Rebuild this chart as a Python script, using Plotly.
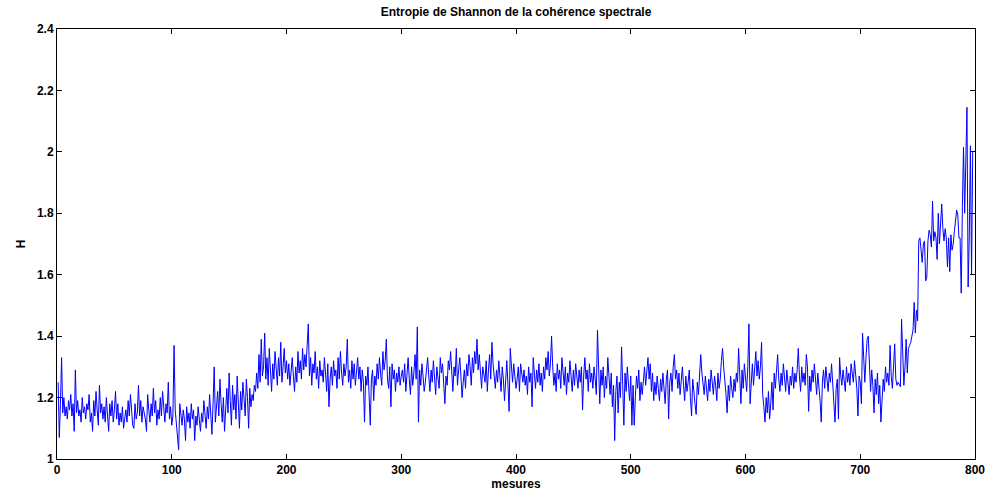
import plotly.graph_objects as go

# Shannon entropy values H (measures 1..798)
h_000_099 = [
    1.25, 1.07, 1.18, 1.33, 1.15, 1.20, 1.14, 1.17, 1.13, 1.19,
    1.16, 1.21, 1.14, 1.18, 1.09, 1.29, 1.15, 1.19, 1.14, 1.16,
    1.12, 1.20, 1.15, 1.17, 1.13, 1.18, 1.16, 1.21, 1.12, 1.15,
    1.09, 1.19, 1.14, 1.22, 1.16, 1.11, 1.24, 1.15, 1.18, 1.13,
    1.17, 1.12, 1.20, 1.15, 1.09, 1.18, 1.14, 1.19, 1.12, 1.16,
    1.22, 1.13, 1.18, 1.11, 1.15, 1.12, 1.17, 1.10, 1.14, 1.16,
    1.12, 1.19, 1.14, 1.21, 1.16, 1.11, 1.10, 1.18, 1.13, 1.15,
    1.24, 1.14, 1.19, 1.12, 1.17, 1.15, 1.13, 1.09, 1.21, 1.16,
    1.12, 1.18, 1.14, 1.23, 1.15, 1.19, 1.11, 1.16, 1.13, 1.20,
    1.14, 1.22, 1.16, 1.12, 1.18, 1.15, 1.25, 1.13, 1.17, 1.11,
]
h_100_199 = [
    1.14, 1.37, 1.16, 1.12, 1.07, 1.03, 1.18, 1.15, 1.11, 1.16,
    1.13, 1.06, 1.17, 1.12, 1.15, 1.10, 1.18, 1.13, 1.16, 1.06,
    1.14, 1.11, 1.17, 1.13, 1.09, 1.15, 1.12, 1.19, 1.14, 1.10,
    1.17, 1.13, 1.21, 1.15, 1.08, 1.18, 1.30, 1.12, 1.16, 1.22,
    1.14, 1.26, 1.18, 1.12, 1.20, 1.09, 1.16, 1.23, 1.15, 1.28,
    1.19, 1.11, 1.24, 1.16, 1.21, 1.13, 1.27, 1.18, 1.10, 1.22,
    1.16, 1.25, 1.19, 1.14, 1.26, 1.20, 1.10, 1.23, 1.17, 1.21,
    1.19, 1.24, 1.22, 1.28, 1.23, 1.34, 1.25, 1.39, 1.27, 1.30,
    1.41, 1.26, 1.33, 1.24, 1.36, 1.28, 1.22, 1.31, 1.26, 1.35,
    1.29, 1.24, 1.33, 1.27, 1.38, 1.25, 1.30, 1.36, 1.28, 1.32,
]
h_200_299 = [
    1.26, 1.31, 1.24, 1.29, 1.33, 1.27, 1.22, 1.30, 1.25, 1.35,
    1.28, 1.32, 1.26, 1.36, 1.29, 1.34, 1.30, 1.37, 1.44, 1.27,
    1.33, 1.24, 1.31, 1.28, 1.35, 1.26, 1.30, 1.23, 1.32, 1.27,
    1.29, 1.25, 1.33, 1.28, 1.22, 1.31, 1.17, 1.26, 1.30, 1.24,
    1.32, 1.27, 1.29, 1.23, 1.33, 1.26, 1.35, 1.28, 1.24, 1.31,
    1.27, 1.30, 1.39, 1.25, 1.29, 1.23, 1.32, 1.26, 1.31, 1.24,
    1.28, 1.33, 1.26, 1.30, 1.22, 1.29, 1.25, 1.12, 1.27, 1.24,
    1.30, 1.21, 1.11, 1.26, 1.29, 1.19, 1.27, 1.24, 1.31, 1.26,
    1.33, 1.28, 1.24, 1.35, 1.29, 1.32, 1.39, 1.26, 1.23, 1.30,
    1.17, 1.31, 1.26, 1.29, 1.22, 1.28, 1.25, 1.30, 1.24, 1.27,
]
h_300_399 = [
    1.29, 1.25, 1.31, 1.22, 1.27, 1.33, 1.26, 1.21, 1.30, 1.24,
    1.28, 1.34, 1.26, 1.43, 1.12, 1.29, 1.24, 1.31, 1.27, 1.22,
    1.25, 1.30, 1.33, 1.27, 1.22, 1.29, 1.25, 1.32, 1.26, 1.21,
    1.30, 1.27, 1.23, 1.33, 1.28, 1.31, 1.25, 1.18, 1.27, 1.24,
    1.32, 1.29, 1.35, 1.26, 1.22, 1.30, 1.27, 1.36, 1.24, 1.29,
    1.33, 1.27, 1.20, 1.25, 1.29, 1.23, 1.31, 1.27, 1.34, 1.30,
    1.24, 1.33, 1.28, 1.35, 1.31, 1.39, 1.29, 1.34, 1.26, 1.23,
    1.30, 1.27, 1.25, 1.32, 1.22, 1.29, 1.34, 1.26, 1.38, 1.31,
    1.27, 1.23, 1.29, 1.25, 1.32, 1.28, 1.22, 1.30, 1.26, 1.19,
    1.28, 1.32, 1.24, 1.155, 1.36, 1.29, 1.25, 1.31, 1.27, 1.23,
]
h_400_499 = [
    1.26, 1.30, 1.22, 1.31, 1.28, 1.25, 1.29, 1.24, 1.27, 1.21,
    1.30, 1.25, 1.28, 1.17, 1.33, 1.26, 1.23, 1.29, 1.25, 1.31,
    1.24, 1.28, 1.22, 1.30, 1.26, 1.33, 1.29, 1.35, 1.27, 1.31,
    1.40, 1.30, 1.24, 1.28, 1.22, 1.31, 1.26, 1.29, 1.23, 1.33,
    1.27, 1.24, 1.30, 1.21, 1.28, 1.25, 1.32, 1.26, 1.22, 1.29,
    1.24, 1.31, 1.27, 1.23, 1.29, 1.25, 1.30, 1.16, 1.27, 1.33,
    1.26, 1.29, 1.22, 1.31, 1.25, 1.28, 1.23, 1.30, 1.26, 1.21,
    1.42, 1.25, 1.18, 1.29, 1.24, 1.30, 1.20, 1.27, 1.23, 1.33,
    1.26, 1.21, 1.28, 1.17, 1.24, 1.06, 1.22, 1.27, 1.15, 1.25,
    1.20, 1.365, 1.24, 1.11, 1.28, 1.22, 1.30, 1.25, 1.19, 1.27,
]
h_500_599 = [
    1.11, 1.24, 1.11, 1.20, 1.27, 1.23, 1.29, 1.19, 1.25, 1.21,
    1.27, 1.30, 1.24, 1.29, 1.33, 1.26, 1.31, 1.22, 1.28, 1.19,
    1.25, 1.21, 1.27, 1.23, 1.19, 1.26, 1.22, 1.28, 1.24, 1.18,
    1.26, 1.29, 1.13, 1.25, 1.28, 1.22, 1.30, 1.34, 1.26, 1.29,
    1.23, 1.28, 1.21, 1.26, 1.30, 1.24, 1.19, 1.27, 1.22, 1.25,
    1.29, 1.20, 1.14, 1.26, 1.23, 1.18, 1.145, 1.25, 1.21, 1.29,
    1.34, 1.28, 1.24, 1.21, 1.27, 1.23, 1.19, 1.26, 1.22, 1.29,
    1.25, 1.21, 1.27, 1.24, 1.19, 1.28, 1.23, 1.26, 1.32, 1.36,
    1.30, 1.26, 1.21, 1.15, 1.24, 1.19, 1.27, 1.23, 1.20, 1.26,
    1.22, 1.28, 1.25, 1.36, 1.24, 1.18, 1.29, 1.23, 1.31, 1.27,
]
h_600_699 = [
    1.22, 1.30, 1.44, 1.18, 1.26, 1.31, 1.24, 1.29, 1.35, 1.27,
    1.32, 1.26, 1.30, 1.38, 1.21, 1.17, 1.12, 1.20, 1.15, 1.22,
    1.13, 1.18, 1.25, 1.16, 1.28, 1.23, 1.30, 1.34, 1.26, 1.22,
    1.28, 1.24, 1.31, 1.26, 1.22, 1.29, 1.25, 1.21, 1.27, 1.24,
    1.30, 1.23, 1.28, 1.25, 1.29, 1.36, 1.27, 1.22, 1.30, 1.25,
    1.28, 1.24, 1.34, 1.30, 1.155, 1.27, 1.22, 1.29, 1.25, 1.31,
    1.26, 1.21, 1.28, 1.24, 1.19, 1.12, 1.25, 1.29, 1.23, 1.30,
    1.27, 1.22, 1.28, 1.25, 1.31, 1.24, 1.20, 1.12, 1.23, 1.26,
    1.13, 1.33, 1.27, 1.24, 1.29, 1.26, 1.22, 1.30, 1.25, 1.28,
    1.24, 1.31, 1.27, 1.25, 1.32, 1.28, 1.23, 1.14, 1.27, 1.25,
]
h_700_797 = [
    1.18, 1.41, 1.30, 1.25, 1.33, 1.39, 1.40, 1.27, 1.22, 1.29,
    1.24, 1.15, 1.26, 1.21, 1.28, 1.18, 1.24, 1.12, 1.20, 1.26,
    1.22, 1.30, 1.25, 1.28, 1.24, 1.37, 1.27, 1.23, 1.30, 1.375,
    1.26, 1.24, 1.25, 1.24, 1.235, 1.455, 1.33, 1.24, 1.30, 1.39,
    1.28, 1.36, 1.37, 1.38, 1.40, 1.42, 1.51, 1.41, 1.485, 1.45,
    1.71, 1.72, 1.68, 1.64, 1.70, 1.71, 1.58, 1.59, 1.71, 1.745,
    1.73, 1.69, 1.84, 1.71, 1.74, 1.72, 1.65, 1.80, 1.70, 1.76,
    1.83, 1.75, 1.71, 1.75, 1.72, 1.625, 1.72, 1.61, 1.73, 1.68,
    1.70, 1.74, 1.77, 1.81, 1.795, 1.72, 1.72, 1.54, 1.82, 2.015,
    1.80, 2.01, 2.145, 1.56, 1.72, 2.02, 1.60, 2.00,
]

h_values = (h_000_099 + h_100_199 + h_200_299 + h_300_399 +
            h_400_499 + h_500_599 + h_600_699 + h_700_797)
mesures = list(range(1, len(h_values) + 1))

title_text = "Entropie de Shannon de la cohérence spectrale"
x_label = "mesures"
y_label = "H"
x_ticks = [0, 100, 200, 300, 400, 500, 600, 700, 800]
y_ticks = [1, 1.2, 1.4, 1.6, 1.8, 2, 2.2, 2.4]

font_family = "Liberation Sans, Arial, sans-serif"

fig = go.Figure()
fig.add_trace(go.Scatter(
    x=mesures, y=h_values, mode="lines",
    line=dict(color="#0000FF", width=1),
    showlegend=False,
))

axis_common = dict(
    showline=True, linecolor="black", linewidth=1, mirror="ticks",
    ticks="inside", ticklen=5, tickcolor="black", tickwidth=1,
    showgrid=False, zeroline=False, automargin=False,
    tickfont=dict(family=font_family, size=12, color="black", weight="bold"),
)

fig.update_layout(
    width=987, height=493,
    margin=dict(l=57, r=12, t=29, b=34, autoexpand=False),
    paper_bgcolor="white", plot_bgcolor="white",
    font=dict(family=font_family, color="black"),
    title=dict(text=title_text, x=0.5, xanchor="center", xref="paper",
               y=1 - 12 / 493, yanchor="middle", automargin=False,
               font=dict(family=font_family, size=12, color="black",
                         weight="bold")),
    xaxis=dict(range=[0, 800], tickvals=x_ticks,
               title=dict(text=x_label, standoff=2,
                          font=dict(family=font_family, size=12, color="black",
                                    weight="bold")),
               **axis_common),
    yaxis=dict(range=[1, 2.4], tickvals=y_ticks,
               title=dict(text=y_label, standoff=8,
                          font=dict(family=font_family, size=12, color="black",
                                    weight="bold")),
               **axis_common),
)

fig.write_html(
    "out.html",
    config={"displayModeBar": False, "staticPlot": True},
    post_script="document.body.style.margin='0';"
                "document.documentElement.style.overflow='hidden';",
)
